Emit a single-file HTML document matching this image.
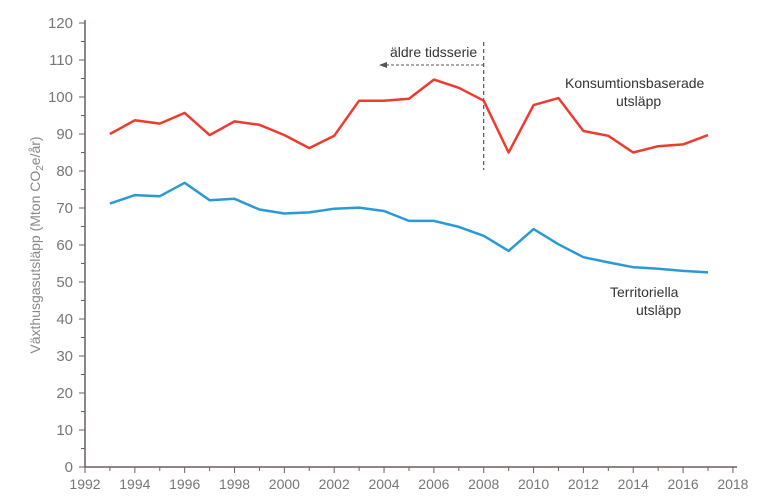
<!DOCTYPE html>
<html><head><meta charset="utf-8"><style>
body{margin:0;background:#fff;}
svg{display:block;font-family:"Liberation Sans",sans-serif;}
</style></head><body>
<svg id="c" width="763" height="497" viewBox="0 0 763 497" xmlns="http://www.w3.org/2000/svg"></svg>
<script>
const s=document.getElementById('c');
const X=y=>85+(y-1992)*24.92, Y=v=>467-v*3.7;
let h='';
h+=`<line x1="85" y1="20" x2="85" y2="467" stroke="#6b5f5f" stroke-width="1.5"/>`;
h+=`<line x1="85" y1="467" x2="737" y2="467" stroke="#6b5f5f" stroke-width="1.5"/>`;
for(let v=0;v<=120;v+=5){const y=Y(v);h+=`<line x1="${v%10?81:79}" y1="${y}" x2="85" y2="${y}" stroke="#6b5f5f" stroke-width="1"/>`;
 if(v%10==0)h+=`<text x="73" y="${y+5}" text-anchor="end" font-size="15" fill="#777">${v}</text>`;}
for(let yr=1992;yr<=2018;yr++){const x=X(yr);h+=`<line x1="${x}" y1="467" x2="${x}" y2="${yr%2?471:473}" stroke="#6b5f5f" stroke-width="1"/>`;
 if(yr%2==0)h+=`<text x="${x}" y="489" text-anchor="middle" font-size="14" fill="#777">${yr}</text>`;}
const r=[90,93.7,92.8,95.7,89.7,93.4,92.5,89.7,86.2,89.5,99,99,99.5,104.7,102.5,99,85,97.8,99.7,90.8,89.5,85,86.7,87.2,89.7];
const b=[71.2,73.5,73.2,76.8,72.1,72.5,69.6,68.5,68.8,69.8,70.1,69.2,66.5,66.5,64.9,62.5,58.4,64.3,60.2,56.7,55.3,54,53.6,53,52.6];
const pts=a=>a.map((v,i)=>X(1993+i).toFixed(1)+','+Y(v).toFixed(1)).join(' ');
h+=`<line x1="${X(2008)}" y1="42" x2="${X(2008)}" y2="170" stroke="#333" stroke-width="1" stroke-dasharray="4,3"/>`;
h+=`<line x1="386" y1="65" x2="${X(2008)}" y2="65" stroke="#555" stroke-width="1" stroke-dasharray="3,2"/>`;
h+=`<polygon points="379,65 387,62 387,68" fill="#555"/>`;
h+=`<text x="390" y="57" font-size="14" fill="#333">äldre tidsserie</text>`;
h+=`<polyline points="${pts(r)}" fill="none" stroke="#ee3b2f" stroke-width="2.5" stroke-linejoin="round"/>`;
h+=`<polyline points="${pts(b)}" fill="none" stroke="#2a9ad6" stroke-width="2.5" stroke-linejoin="round"/>`;
h+=`<text x="565" y="88" font-size="14" fill="#333">Konsumtionsbaserade</text>`;
h+=`<text x="616" y="106" font-size="14" fill="#333">utsläpp</text>`;
h+=`<text x="610" y="297" font-size="14" fill="#333">Territoriella</text>`;
h+=`<text x="636" y="315" font-size="14" fill="#333">utsläpp</text>`;
h+=`<text transform="translate(40,245) rotate(-90)" text-anchor="middle" font-size="14" fill="#888">Växthusgasutsläpp  (Mton CO<tspan font-size="10" dy="3">2</tspan><tspan dy="-3">e/år)</tspan></text>`;
s.innerHTML=h;
</script>
</body></html>
